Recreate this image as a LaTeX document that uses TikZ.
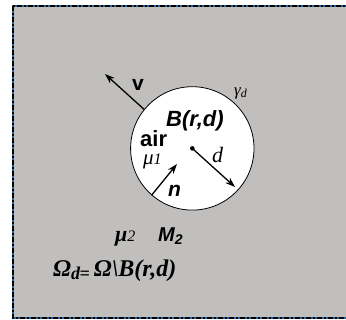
\documentclass[tikz,border=0pt]{standalone}
\usepackage{fontspec}
\setmainfont{Liberation Serif}
\newfontfamily\arialf{Liberation Sans}
\usetikzlibrary{arrows.meta}
\definecolor{bggrey}{RGB}{192,191,190}
\definecolor{edgeblue}{RGB}{40,100,160}
\tikzset{
  lbl/.style={inner sep=0pt, anchor=base west},
  vec/.style={line width=1.3pt, -{Stealth[length=10pt,width=7pt]}},
}
\begin{document}
\begin{tikzpicture}[x=1pt,y=-1pt]
\useasboundingbox (0,0) rectangle (346,320);
\begin{scope}
\clip (0,0) rectangle (346,320);
\fill[bggrey] (13,6) rectangle (360,318);
\draw[edgeblue, line width=2.5pt] (13,6) rectangle (360,318);
\draw[black, line width=1.5pt, dash pattern=on 5pt off 2pt on 2pt off 2pt] (13,6) rectangle (360,318);
\end{scope}
% circle
\coordinate (C) at (192.3,148.4);
\node[circle, draw=black, line width=0.8pt, fill=white, minimum size=123.4pt, inner sep=0pt] (ball) at (C) {};
\fill (C) circle (2.3pt);
% arrows
\coordinate (vtip) at (105,74);
\coordinate (dtip) at (235,187);
\coordinate (ntip) at (177,164);
\draw[vec] (ball.141) -- (vtip);
\draw[vec] (C) -- (dtip);
\draw[vec] (ball.229) -- (ntip);
% labels
\node[lbl, font=\arialf\bfseries\fontsize{21}{21}\selectfont] (vl) at (132,91) {v};
\node[lbl, font=\arialf\bfseries\itshape\fontsize{22}{22}\selectfont] (Bl) at (166,127) {B(r,d)};
\node[lbl, font=\arialf\bfseries\fontsize{22}{22}\selectfont] (airl) at (140,147) {air};
\node[lbl, text height=9pt, font=\itshape\fontsize{21}{21}\selectfont] (mu1) at (143,165) {μ{\fontsize{16}{16}\selectfont 1}};
\node[lbl, font=\arialf\bfseries\itshape\fontsize{21}{21}\selectfont] (nl) at (168,197) {n};
\node[lbl, font=\itshape\fontsize{22}{22}\selectfont] (dl) at (212,163) {d};
\node[lbl, font=\itshape\fontsize{17}{17}\selectfont] (gl) at (234,96) {γ\raisebox{-2pt}{\fontsize{12}{12}\selectfont d}};
\node[lbl, font=\itshape\bfseries\fontsize{22}{22}\selectfont] (mu2) at (115,242) {μ{\mdseries\fontsize{16}{16}\selectfont 2}};
\node[lbl, font=\arialf\bfseries\itshape\fontsize{20}{20}\selectfont] (M2) at (158,242) {M\raisebox{-3pt}{\fontsize{14}{14}\selectfont 2}};
\node[lbl, font=\bfseries\itshape\fontsize{24}{24}\selectfont] (om) at (53,277) {Ω\raisebox{-3pt}{\fontsize{18}{18}\selectfont d\kern-0.5pt=}\,Ω\textbackslash B(r,d)};
\end{tikzpicture}
\end{document}
